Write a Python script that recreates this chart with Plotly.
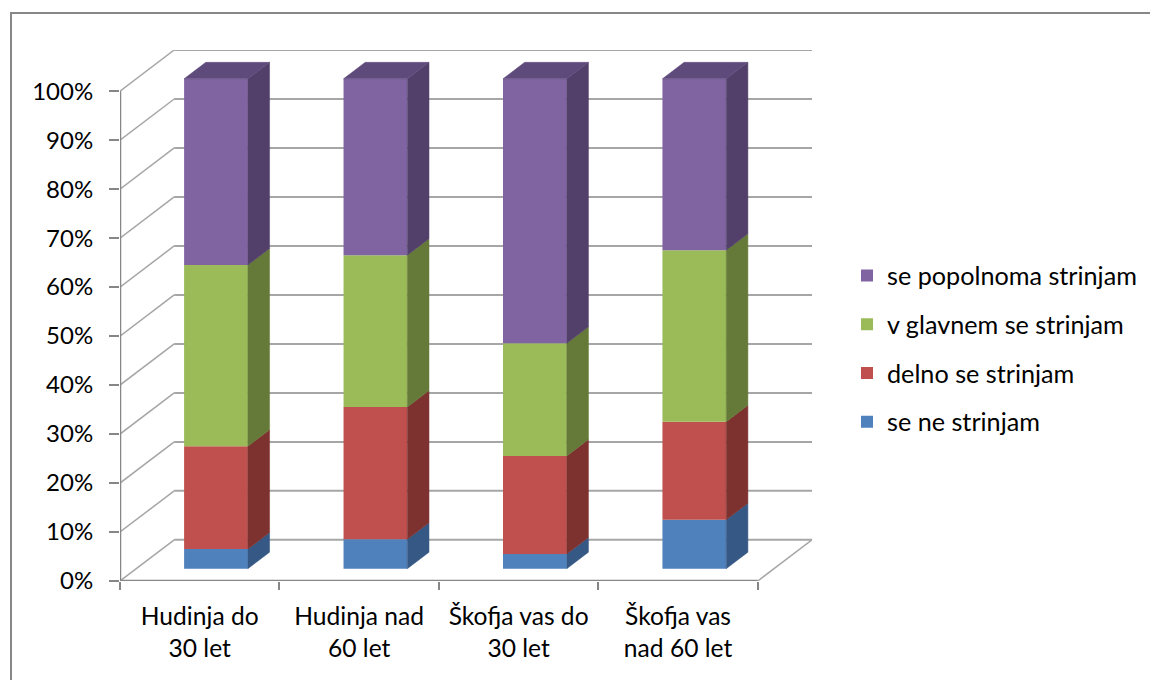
import plotly.graph_objects as go

# ---------------- data ----------------
categories = ["Hudinja do<br>30 let", "Hudinja nad<br>60 let",
              "Škofja vas do<br>30 let", "Škofja vas<br>nad 60 let"]
series_names = ["se ne strinjam", "delno se strinjam",
                "v glavnem se strinjam", "se popolnoma strinjam"]
se_ne_strinjam = [4, 6, 3, 10]
delno_se_strinjam = [21, 27, 20, 20]
v_glavnem_se_strinjam = [37, 31, 23, 35]
se_popolnoma_strinjam = [38, 36, 54, 35]
y_ticks = [0, 10, 20, 30, 40, 50, 60, 70, 80, 90, 100]
y_ticktext = [f"{v}%" for v in y_ticks]

series_values = [se_ne_strinjam, delno_se_strinjam,
                 v_glavnem_se_strinjam, se_popolnoma_strinjam]

# ---------------- style ----------------
front_colors = ["#4F81BD", "#C0504D", "#9BBB59", "#8064A2"]
side_colors = ["#365884", "#7E3230", "#657A38", "#52406B"]
top_color = "#5F4A7C"
grid_color = "#A6A6A6"
axis_color = "#868686"
FONT = "Lato"

DX = 0.34      # depth offset in category units
DY = 8.4       # depth offset in percent units
BAR_W = 0.4
F0, F1 = 0.3, 0.7   # front / back depth fraction of bars

n = len(categories)
x_idx = list(range(n))

fig = go.Figure()

cum = [0.0] * n
d = F1 - F0
for k, (name, vals, fc, sc) in enumerate(zip(series_names, series_values,
                                            front_colors, side_colors)):
    base = [c + F0 * DY for c in cum]
    xs = [i + F0 * DX for i in x_idx]
    fig.add_trace(go.Bar(
        x=xs, y=vals, base=base, width=BAR_W, name=name, legendgroup=name,
        legendrank=len(series_names) - k,
        marker=dict(color=fc, line=dict(width=0)), hoverinfo="name+y"))
    for i in x_idx:
        xr = xs[i] + BAR_W / 2
        y0 = base[i]
        y1 = base[i] + vals[i]
        fig.add_trace(go.Scatter(
            x=[xr, xr + d * DX, xr + d * DX, xr, xr],
            y=[y0, y0 + d * DY, y1 + d * DY, y1, y0],
            fill="toself", fillcolor=sc, mode="lines",
            line=dict(width=0.5, color=sc), hoverinfo="skip", showlegend=False))
    cum = [c + v for c, v in zip(cum, vals)]

# top faces of the stacks
for i in x_idx:
    xl = i + F0 * DX - BAR_W / 2
    xr = i + F0 * DX + BAR_W / 2
    yt = cum[i] + F0 * DY
    fig.add_trace(go.Scatter(
        x=[xl, xr, xr + d * DX, xl + d * DX, xl],
        y=[yt, yt, yt + d * DY, yt + d * DY, yt],
        fill="toself", fillcolor=top_color, mode="lines",
        line=dict(width=0.5, color=top_color), hoverinfo="skip", showlegend=False))

# ---------------- walls / grid ----------------
shapes = []
xmin, xmax = -0.5, n - 0.5
for v in y_ticks:
    shapes.append(dict(type="line", layer="below", x0=xmin + DX, x1=xmax + DX,
                       y0=v + DY, y1=v + DY, line=dict(color=grid_color, width=2)))
    shapes.append(dict(type="line", layer="below", x0=xmin, x1=xmin + DX,
                       y0=v, y1=v + DY, line=dict(color=grid_color, width=1.5)))
shapes.append(dict(type="line", layer="below", x0=xmax, x1=xmax + DX, y0=0, y1=DY,
                   line=dict(color=grid_color, width=1.5)))
# front axis lines
shapes.append(dict(type="line", x0=xmin, x1=xmin, y0=0, y1=100,
                   line=dict(color=axis_color, width=2.5)))
shapes.append(dict(type="line", x0=xmin, x1=xmax, y0=0, y1=0,
                   line=dict(color=axis_color, width=2.5)))

# chart border (pixel-derived paper coordinates)
L, PW, B, PH = 120, 692, 99, 531
def px_x(p):
    return (p - L) / PW
def px_y(p):
    return ((680 - B) - p) / PH
shapes.append(dict(type="rect", xref="paper", yref="paper",
                   x0=px_x(11), x1=px_x(1200), y0=px_y(730), y1=px_y(13),
                   line=dict(color="#878787", width=2), fillcolor="rgba(0,0,0,0)"))

fig.update_layout(
    width=1150, height=680,
    margin=dict(l=L, r=1150 - L - PW, t=680 - B - PH, b=B, autoexpand=False),
    paper_bgcolor="white", plot_bgcolor="white",
    barmode="overlay",
    font=dict(family=FONT, size=24, color="black"),
    shapes=shapes,
    showlegend=True,
    legend=dict(x=px_x(847), xanchor="left", y=px_y(349), yanchor="middle",
                traceorder="grouped", tracegroupgap=13,
                font=dict(family=FONT, size=25.2, color="black"),
                bgcolor="rgba(0,0,0,0)"),
    xaxis=dict(range=[xmin, xmax + DX], tickmode="array", tickvals=x_idx,
               ticktext=categories, ticks="", showgrid=False, zeroline=False,
               showline=False, ticklabelstandoff=18,
               tickfont=dict(family=FONT, size=24.6, color="black"),
               minor=dict(tickmode="array", tickvals=[xmin + k for k in range(n + 1)],
                          ticks="outside", ticklen=8, tickwidth=2, tickcolor=axis_color,
                          showgrid=False)),
    yaxis=dict(range=[0, 100 + DY], tickmode="array", tickvals=y_ticks,
               ticktext=y_ticktext, ticks="outside", ticklen=10, tickwidth=2,
               tickcolor=axis_color, showgrid=False, zeroline=False, showline=False,
               ticklabelstandoff=11,
               tickfont=dict(family=FONT, size=24, color="black")),
)

fig.write_html("out.html", config={"displayModeBar": False},
               post_script="document.body.style.margin='0px';")
